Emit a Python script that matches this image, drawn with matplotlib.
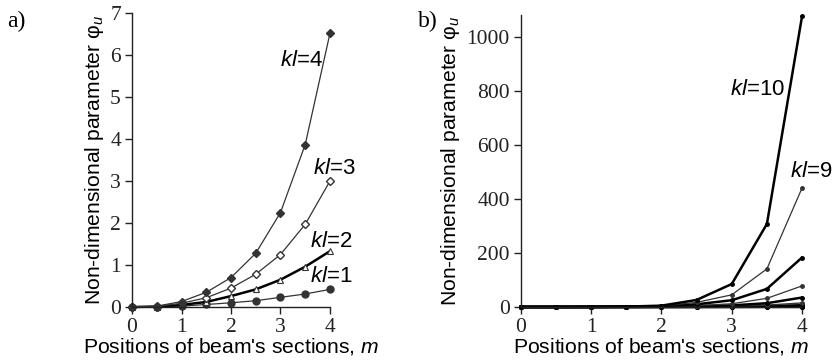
import matplotlib.pyplot as plt

plt.rcParams['font.family'] = 'Liberation Serif'
plt.rcParams['mathtext.fontset'] = 'custom'
plt.rcParams['mathtext.it'] = 'Liberation Sans:italic'
plt.rcParams['mathtext.rm'] = 'Liberation Sans'

# posiciones de las secciones
m = [0, 0.5, 1, 1.5, 2, 2.5, 3, 3.5, 4]

# panel a)
kl1 = [0, 0.003, 0.02, 0.06, 0.10, 0.15, 0.23, 0.31, 0.42]
kl2 = [0, 0.01, 0.05, 0.12, 0.26, 0.42, 0.65, 0.96, 1.33]
kl3 = [0, 0.01, 0.09, 0.22, 0.45, 0.78, 1.25, 1.97, 3.0]
kl4 = [0, 0.02, 0.13, 0.35, 0.70, 1.28, 2.25, 3.87, 6.52]

# panel b)
kl5 = [0, 0.05, 0.1, 0.3, 1.0, 2.0, 3.5, 7, 15]
kl6 = [0, 0.05, 0.2, 0.5, 1.5, 3.0, 6, 14, 35]
kl7 = [0, 0.05, 0.2, 0.7, 2.0, 5, 12, 32, 78]
kl8 = [0, 0.05, 0.3, 0.9, 3.0, 10, 25, 67, 183]
kl9 = [0, 0.05, 0.4, 1.2, 4.0, 17, 45, 141, 440]
kl10 = [0, 0.05, 0.5, 1.5, 5.0, 26, 85, 307, 1075]

sans = 'Liberation Sans'
gris = '#333333'

fig = plt.figure(figsize=(8.32, 3.64), dpi=100)
ax1 = fig.add_axes([0.1587, 0.1566, 0.2379, 0.8074])
ax2 = fig.add_axes([0.626, 0.1566, 0.338, 0.8024])


def estilo(ax):
    for s in ['top', 'right']:
        ax.spines[s].set_visible(False)
    for s in ['left', 'bottom']:
        ax.spines[s].set_linewidth(1.0)
        ax.spines[s].set_color('#222222')
    ax.tick_params(direction='out', length=5, width=1.0, colors='#222222',
                   labelsize=15.5, pad=3)
    ax.set_xlabel("Positions of beam's sections, $m$", fontsize=15.2,
                  fontfamily=sans, labelpad=-1)
    ax.set_ylabel('Non-dimensional parameter φ$_{u}$', fontsize=15.2,
                  fontfamily=sans, labelpad=3)


# a)
ax1.plot(m, kl1, color=gris, lw=0.9, marker='o', ms=5, clip_on=False)
ax1.plot(m, kl2, color='black', lw=1.8, marker='^', ms=5, mfc='white',
         mec=gris, mew=0.8, clip_on=False)
ax1.plot(m, kl3, color=gris, lw=0.9, marker='D', ms=4.5, mfc='white',
         mec=gris, mew=1.0, clip_on=False)
ax1.plot(m, kl4, color=gris, lw=0.9, marker='D', ms=4.5, clip_on=False)
ax1.set_xlim(0, 4)
ax1.set_ylim(0, 7)
ax1.set_xticks([0, 1, 2, 3, 4])
ax1.set_yticks(range(0, 8))
estilo(ax1)
ax1.text(3.43, 5.88, '$kl$=4', fontsize=16, fontfamily=sans, ha='center', va='center')
ax1.text(4.08, 3.30, '$kl$=3', fontsize=16, fontfamily=sans, ha='center', va='center')
ax1.text(4.02, 1.55, '$kl$=2', fontsize=16, fontfamily=sans, ha='center', va='center')
ax1.text(4.02, 0.72, '$kl$=1', fontsize=16, fontfamily=sans, ha='center', va='center')

# b)
series_b = [kl1, kl2, kl3, kl4, kl5, kl6, kl7, kl8, kl9, kl10]
anchos = [1.8, 1.8, 1.8, 1.8, 1.0, 1.8, 0.9, 1.8, 0.9, 1.8]
colores = ['black', 'black', 'black', 'black', gris, 'black', gris, 'black', gris, 'black']
for y, w, c in zip(series_b, anchos, colores):
    ax2.plot(m, y, color=c, lw=w, marker='o', ms=2.5, clip_on=False)
ax2.set_xlim(0, 4)
ax2.set_ylim(0, 1080)
ax2.set_xticks([0, 1, 2, 3, 4])
ax2.set_yticks([0, 200, 400, 600, 800, 1000])
estilo(ax2)
ax2.text(3.37, 804, '$kl$=10', fontsize=16, fontfamily=sans, ha='center', va='center')
ax2.text(4.13, 500, '$kl$=9', fontsize=16, fontfamily=sans, ha='center', va='center')

fig.text(16 / 832, 1 - 21 / 364, 'a)', fontsize=17, ha='center', va='center')
fig.text(428 / 832, 1 - 21 / 364, 'b)', fontsize=17, ha='center', va='center')

fig.savefig('out.png', dpi=100)
